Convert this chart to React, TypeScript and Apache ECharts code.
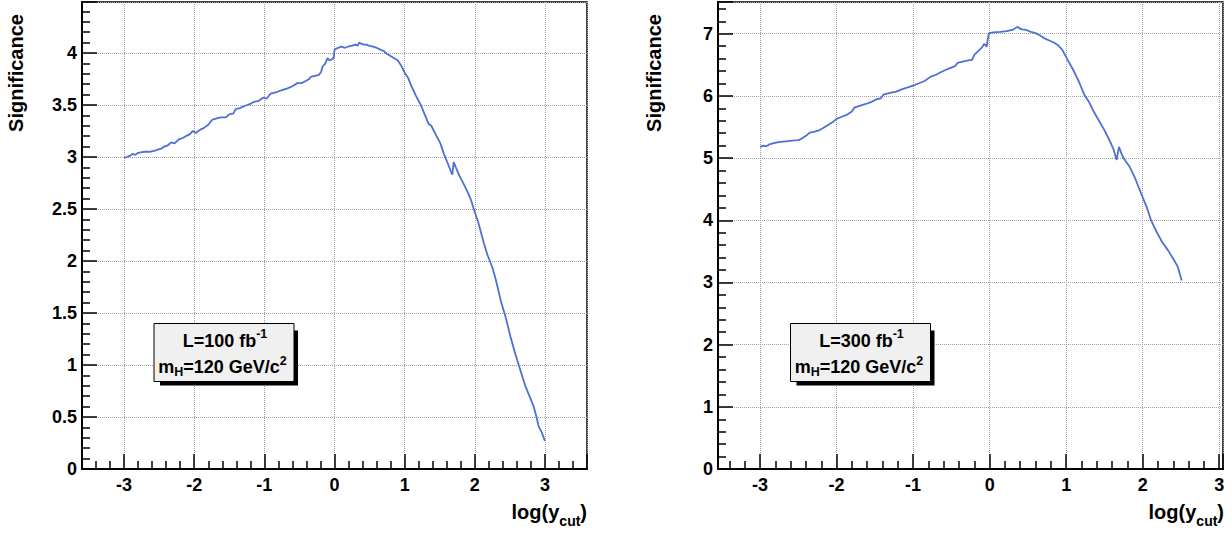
import React, { useEffect, useRef } from "react";
import * as echarts from "echarts";

// Left panel: L = 100 fb^-1
const leftX = [
  -3.0, -2.96, -2.92, -2.88, -2.84, -2.8, -2.72, -2.64, -2.56, -2.52, -2.47, -2.43, -2.38, -2.33, -2.28,
  -2.22, -2.17, -2.12, -2.06, -2.02, -1.98, -1.92, -1.86, -1.8, -1.74, -1.68, -1.62, -1.55, -1.5, -1.44,
  -1.41, -1.35, -1.28, -1.2, -1.15, -1.08, -1.02, -0.97, -0.91, -0.84, -0.76, -0.67, -0.6, -0.53, -0.47,
  -0.41, -0.36, -0.34, -0.28, -0.22, -0.19, -0.17, -0.13, -0.1, -0.07, -0.03, -0.01, 0.0, 0.05, 0.1,
  0.15, 0.19, 0.25, 0.3, 0.33, 0.35, 0.38, 0.42, 0.46, 0.49, 0.55, 0.6, 0.66, 0.7, 0.75,
  0.8, 0.85, 0.9, 0.95, 1.0, 1.05, 1.09, 1.16, 1.23, 1.28, 1.34, 1.38, 1.44, 1.51, 1.56,
  1.62, 1.66, 1.68, 1.7, 1.73, 1.78, 1.85, 1.9, 1.95, 1.99, 2.05, 2.13, 2.18, 2.25, 2.3,
  2.37, 2.44, 2.51, 2.58, 2.65, 2.72, 2.78, 2.84, 2.88, 2.91, 2.95, 3.0,
];
const leftY = [
  2.99, 3.0, 3.01, 3.03, 3.02, 3.04, 3.05, 3.05, 3.06, 3.07, 3.08, 3.1, 3.11, 3.14, 3.13,
  3.17, 3.18, 3.2, 3.22, 3.25, 3.23, 3.26, 3.28, 3.31, 3.36, 3.37, 3.38, 3.38, 3.41, 3.42,
  3.46, 3.47, 3.49, 3.51, 3.53, 3.54, 3.57, 3.56, 3.61, 3.62, 3.64, 3.66, 3.68, 3.71, 3.71,
  3.73, 3.75, 3.77, 3.78, 3.79, 3.82, 3.87, 3.9, 3.95, 3.93, 3.94, 3.96, 4.03, 4.05, 4.06,
  4.05, 4.06, 4.07, 4.08, 4.07, 4.1, 4.09, 4.08, 4.08, 4.07, 4.06, 4.05, 4.03, 4.02, 3.99,
  3.97, 3.95, 3.93, 3.88, 3.81, 3.76, 3.69, 3.59, 3.5, 3.42, 3.32, 3.3, 3.22, 3.13, 3.03,
  2.93, 2.86, 2.83, 2.95, 2.9, 2.82, 2.73, 2.66, 2.58, 2.49, 2.37, 2.17, 2.06, 1.94, 1.82,
  1.62, 1.46, 1.27, 1.1, 0.95, 0.8, 0.7, 0.6, 0.5, 0.41, 0.36, 0.27,
];

// Right panel: L = 300 fb^-1
const rightX = [
  -3.0, -2.96, -2.92, -2.88, -2.82, -2.74, -2.66, -2.58, -2.5, -2.46, -2.4, -2.35, -2.3, -2.24, -2.18,
  -2.1, -2.04, -2.0, -1.94, -1.86, -1.8, -1.77, -1.7, -1.62, -1.55, -1.47, -1.42, -1.39, -1.3, -1.22,
  -1.14, -1.06, -0.99, -0.93, -0.85, -0.77, -0.7, -0.64, -0.57, -0.51, -0.45, -0.42, -0.35, -0.28, -0.23,
  -0.2, -0.15, -0.1, -0.07, -0.04, -0.01, 0.05, 0.14, 0.22, 0.3, 0.36, 0.42, 0.48, 0.54, 0.6,
  0.66, 0.71, 0.78, 0.85, 0.89, 0.95, 1.02, 1.1, 1.17, 1.24, 1.3, 1.35, 1.42, 1.5, 1.56,
  1.62, 1.66, 1.69, 1.74, 1.79, 1.83, 1.9, 1.98, 2.05, 2.11, 2.18, 2.25, 2.33, 2.4, 2.46, 2.51,
];
const rightY = [
  5.18, 5.2, 5.19, 5.22, 5.24, 5.26, 5.27, 5.28, 5.29, 5.31, 5.36, 5.41, 5.42, 5.44, 5.48,
  5.54, 5.59, 5.63, 5.66, 5.7, 5.75, 5.81, 5.84, 5.87, 5.9, 5.95, 5.96, 6.02, 6.05, 6.07,
  6.11, 6.14, 6.17, 6.2, 6.24, 6.31, 6.34, 6.38, 6.42, 6.45, 6.48, 6.53, 6.55, 6.57, 6.58,
  6.66, 6.72, 6.78, 6.84, 6.79, 7.01, 7.02, 7.03, 7.04, 7.06, 7.11, 7.07, 7.06, 7.03, 7.01,
  6.97, 6.93, 6.89, 6.85, 6.82, 6.74, 6.58, 6.4, 6.22, 6.01, 5.9, 5.77, 5.62, 5.45, 5.3,
  5.14, 4.97, 5.18, 5.02, 4.93, 4.86, 4.68, 4.43, 4.22, 4.0, 3.82, 3.66, 3.52, 3.38, 3.25, 3.03,
];

const yTitle = "Significance";
const lumiLeft = "100";
const lumiRight = "300";
const massText = "120";

const FONT = "'Liberation Sans', Arial, Helvetica, sans-serif";
const LINE_COLOR = "#4f6fd2";

function xAxisDef(grid: number, min: number, max: number) {
  return {
    type: "value",
    gridIndex: grid,
    min,
    max,
    minInterval: 1,
    maxInterval: 1,
    axisLine: { show: true, onZero: false, lineStyle: { color: "#000", width: 2 } },
    axisTick: { show: true, inside: true, length: 15, lineStyle: { color: "#000", width: 1.5 } },
    minorTick: { show: true, splitNumber: 5, length: 8, lineStyle: { color: "#000", width: 1.5 } },
    axisLabel: {
      show: true,
      margin: 7,
      color: "#000",
      fontSize: 18,
      fontWeight: "bold",
      fontFamily: FONT,
      showMinLabel: false,
      showMaxLabel: false,
      formatter: (v: number) => (Number.isInteger(v) ? String(v) : ""),
    },
    splitLine: { show: true, lineStyle: { color: "#a0a0a0", type: "dotted", width: 1 } },
    minorSplitLine: { show: false },
  };
}

function yAxisDef(grid: number, max: number, interval: number, minorSplit: number) {
  return {
    type: "value",
    gridIndex: grid,
    min: 0,
    max,
    interval,
    axisLine: { show: true, onZero: false, lineStyle: { color: "#000", width: 2 } },
    axisTick: { show: true, inside: true, length: 15, lineStyle: { color: "#000", width: 1.5 } },
    minorTick: { show: true, splitNumber: minorSplit, length: 8, lineStyle: { color: "#000", width: 1.5 } },
    axisLabel: {
      show: true,
      margin: 5,
      color: "#000",
      fontSize: 18,
      fontWeight: "bold",
      fontFamily: FONT,
      showMaxLabel: false,
      formatter: (v: number) => (v > max - 0.01 ? "" : String(v)),
    },
    splitLine: { show: true, lineStyle: { color: "#a0a0a0", type: "dotted", width: 1 } },
  };
}

function legendBox(left: number, top: number, lumi: string) {
  const w = 140;
  const h = 58;
  const cx = left + w / 2;
  return [
    {
      type: "rect",
      shape: { x: left + 6, y: top + 7, width: w - 2, height: h - 3 },
      style: { fill: "#000" },
      z: 10,
    },
    {
      type: "rect",
      shape: { x: left, y: top, width: w, height: h },
      style: { fill: "#f0f0f0", stroke: "#000", lineWidth: 1 },
      z: 11,
    },
    {
      type: "text",
      x: cx + 1,
      y: top + 17.5,
      z: 12,
      style: {
        text: `{a|L=${lumi} fb}{s|-1}`,
        textAlign: "center",
        textVerticalAlign: "middle",
        rich: {
          a: { fontSize: 18, fontWeight: "bold", fontFamily: FONT, fill: "#000", lineHeight: 27, verticalAlign: "middle" },
          s: { fontSize: 12.5, fontWeight: "bold", fontFamily: FONT, fill: "#000", lineHeight: 13, verticalAlign: "top" },
        },
      },
    },
    {
      type: "text",
      x: cx - 1.5,
      y: top + 43.4,
      z: 12,
      style: {
        text: `{a|m}{b|H}{a|=${massText} GeV/c}{s|2}`,
        textAlign: "center",
        textVerticalAlign: "middle",
        rich: {
          a: { fontSize: 18, fontWeight: "bold", fontFamily: FONT, fill: "#000", lineHeight: 24, verticalAlign: "middle" },
          b: { fontSize: 12.5, fontWeight: "bold", fontFamily: FONT, fill: "#000", lineHeight: 13, verticalAlign: "bottom" },
          s: { fontSize: 12.5, fontWeight: "bold", fontFamily: FONT, fill: "#000", lineHeight: 13, verticalAlign: "top" },
        },
      },
    },
  ];
}

function xTitle(right: number) {
  return {
    type: "text",
    x: right,
    y: 512,
    z: 12,
    style: {
      text: "{a|log(y}{b|cut}{a|)}",
      textAlign: "right",
      textVerticalAlign: "middle",
      rich: {
        a: { fontSize: 20, fontWeight: "bold", fontFamily: FONT, fill: "#000", lineHeight: 32, verticalAlign: "middle" },
        b: { fontSize: 14, fontWeight: "bold", fontFamily: FONT, fill: "#000", lineHeight: 14, verticalAlign: "bottom" },
      },
    },
  };
}

function yTitleEl(x: number) {
  return {
    type: "text",
    x,
    y: 73,
    rotation: Math.PI / 2,
    z: 12,
    style: {
      text: yTitle,
      textAlign: "center",
      textVerticalAlign: "middle",
      fontSize: 20,
      fontWeight: "bold",
      fontFamily: FONT,
      fill: "#000",
    },
  };
}

export default function App() {
  const ref = useRef<HTMLDivElement>(null);
  useEffect(() => {
    if (!ref.current) return;
    const chart = echarts.init(ref.current, null, { renderer: "svg" });
    const leftData = leftX.map((x, i) => [x, leftY[i]]);
    const rightData = rightX.map((x, i) => [x, rightY[i]]);
    chart.setOption({
      animation: false,
      backgroundColor: "#fff",
      grid: [
        { left: 82, top: 2, width: 505, height: 467, show: true, borderColor: "#000", borderWidth: 1.5, backgroundColor: "transparent" },
        { left: 718, top: 2, width: 505, height: 467, show: true, borderColor: "#000", borderWidth: 1.5, backgroundColor: "transparent" },
      ],
      xAxis: [xAxisDef(0, -3.6, 3.6), xAxisDef(1, -3.55, 3.05)],
      yAxis: [yAxisDef(0, 4.49, 0.5, 5), yAxisDef(1, 7.51, 1, 5)],
      series: [
        {
          type: "line",
          xAxisIndex: 0,
          yAxisIndex: 0,
          data: leftData,
          showSymbol: false,
          symbol: "none",
          lineStyle: { color: LINE_COLOR, width: 1.8 },
          z: 5,
        },
        {
          type: "line",
          xAxisIndex: 1,
          yAxisIndex: 1,
          data: rightData,
          showSymbol: false,
          symbol: "none",
          lineStyle: { color: LINE_COLOR, width: 1.8 },
          z: 5,
        },
      ],
      graphic: [
        yTitleEl(16),
        yTitleEl(654),
        xTitle(587),
        xTitle(1224),
        ...legendBox(154, 323.5, lumiLeft),
        ...legendBox(790.5, 323.5, lumiRight),
      ],
    });
    return () => chart.dispose();
  }, []);
  return (
    <div
      ref={ref}
      style={{ position: "fixed", left: 0, top: 0, width: 1232, height: 533, background: "#fff" }}
    />
  );
}
